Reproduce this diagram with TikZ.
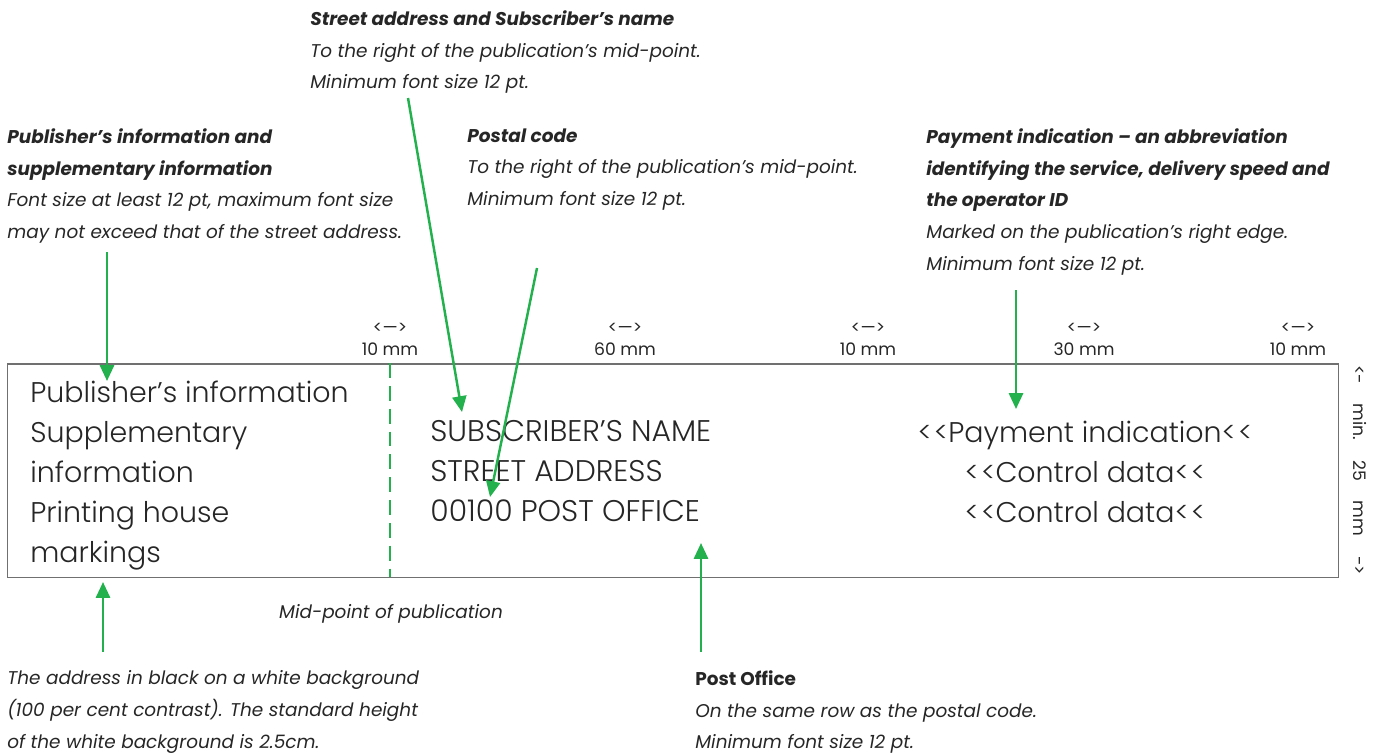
\documentclass[tikz,border=0pt]{standalone}
\usepackage{fontspec}
\setmainfont{Poppins}
\newfontfamily\lightfont{Poppins Light}
\usetikzlibrary{arrows.meta}
\definecolor{postigreen}{HTML}{22B14C}
\definecolor{inkgray}{HTML}{262626}
\definecolor{framegray}{HTML}{707070}
\newcommand{\ltlt}{<\kern1.2pt<}
\tikzset{
  note/.style={anchor=north west, inner sep=0pt, align=left, text=inkgray,
    font=\fontsize{10.5}{18.14}\selectfont\itshape},
  boxtext/.style={anchor=north west, inner sep=0pt, align=left, text=inkgray,
    font=\lightfont\fontsize{16.2}{22.7}\selectfont},
  measure/.style={inner sep=0pt, align=center, text=inkgray,
    font=\fontsize{9.8}{12.5}\selectfont},
  pointer/.style={draw=postigreen, line width=1.4pt,
    -{Triangle[length=9pt,width=8pt]}},
  midline/.style={draw=postigreen, line width=1.4pt, dash pattern=on 8.5pt off 4.5pt}
}

\begin{document}
\begin{tikzpicture}[x=0.02cm, y=-0.02cm]
  \useasboundingbox (0,0) rectangle (1381,755);

  % the address area
  \node (card) [draw=framegray, line width=0.85pt, anchor=north west, inner sep=0pt,
    minimum width=26.62cm, minimum height=4.28cm] at (7,363) {};
  \coordinate (midtop) at (390,363);
  \coordinate (midbot) at (390,577);
  \draw[midline] (midtop) -- (midbot);

  \node (pubinfo) [boxtext] at (30,381)
    {Publisher’s information\\Supplementary\\information\\Printing house\\markings};
  \node (address) [boxtext, font=\lightfont\fontsize{17}{22.7}\selectfont] at (430,420)
    {SUBSCRIBER’S NAME\\STREET ADDRESS\\00100 POST OFFICE};
  \node (payment) [boxtext, anchor=north, align=center] at (1085,421)
    {\ltlt Payment indication\ltlt\\\ltlt Control data\ltlt\\\ltlt Control data\ltlt};

  % widths above the area
  \foreach \x/\d [count=\i] in {390/10, 625/60, 868/10, 1084/30, 1298/10}
    \node (dim\i) [measure] at (\x,339) {<—>\\\d{} mm};
  \node (height) [measure, rotate=-90] at (1360,470)
    {\makebox[4.2cm]{<-\hfill min.\hfill 25\hfill mm\hfill ->}};

  % notes
  \node (streetnote) [note] at (310,10)
    {{\bfseries Street address and Subscriber’s name}\\
     To the right of the publication’s mid-point.\\
     Minimum font size 12 pt.};
  \node (postalnote) [note] at (467,128)
    {{\bfseries Postal code}\\
     To the right of the publication’s mid-point.\\
     Minimum font size 12 pt.};
  \node (pubnote) [note] at (7,128)
    {{\bfseries Publisher’s information and}\\
     {\bfseries supplementary information}\\
     Font size at least 12 pt, maximum font size\\
     may not exceed that of the street address.};
  \node (paynote) [note] at (926,128)
    {{\bfseries Payment indication – an abbreviation}\\
     {\bfseries identifying the service, delivery speed and}\\
     {\bfseries the operator ID}\\
     Marked on the publication’s right edge.\\
     Minimum font size 12 pt.};
  \node (midnote) [note, anchor=center] at (391,614) {Mid-point of publication};
  \node (bgnote) [note] at (7,670)
    {The address in black on a white background\\
     (100 per cent contrast). The standard height\\
     of the white background is 2.5cm.};
  \node (officenote) [note] at (695,670)
    {{\upshape\bfseries Post Office}\\
     On the same row as the postal code.\\
     Minimum font size 12 pt.};

  % arrows
  \coordinate (s1) at (408,98);   \coordinate (s2) at (462,412);
  \coordinate (p1) at (537,268);  \coordinate (p2) at (490,497);
  \coordinate (i1) at (107,252);  \coordinate (i2) at (107,381);
  \coordinate (m1) at (1016,290); \coordinate (m2) at (1016,409);
  \coordinate (b1) at (103,652);  \coordinate (b2) at (103,582);
  \coordinate (o1) at (701,652);  \coordinate (o2) at (701,543);
  \draw[pointer] (s1) -- (s2);
  \draw[pointer] (p1) -- (p2);
  \draw[pointer] (i1) -- (i2);
  \draw[pointer] (m1) -- (m2);
  \draw[pointer] (b1) -- (b2);
  \draw[pointer] (o1) -- (o2);
\end{tikzpicture}
\end{document}
